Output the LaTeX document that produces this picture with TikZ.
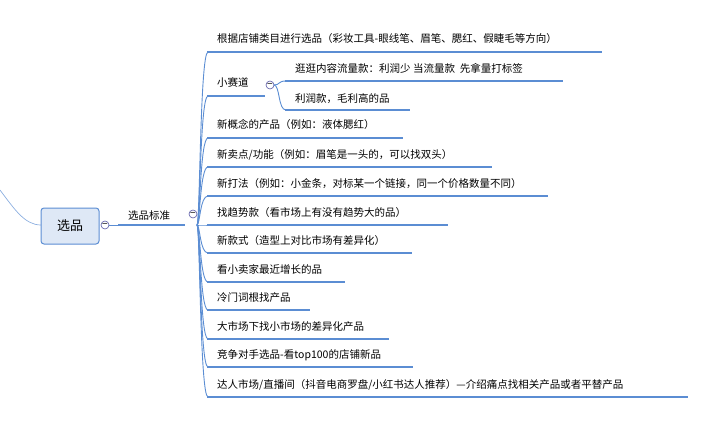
\documentclass[tikz,border=0pt]{standalone}
\usepackage{fontspec}
\setmainfont{Noto Sans CJK SC}
\begin{document}
\begin{tikzpicture}[x=1pt,y=-1pt,
  lbl/.style={anchor=base west,inner sep=0pt,font=\fontsize{10.5}{12}\selectfont},
  ul/.style={draw=blue!45!cyan!60!black!70,line width=1.6pt},
  br/.style={draw=blue!45!cyan!60!black!70,line width=0.9pt},
  tog/.style={circle,draw=gray!70!blue,fill=white,inner sep=0pt,minimum size=8pt,line width=0.6pt}]
\useasboundingbox (0,0) rectangle (727,422);
\definecolor{ln}{HTML}{5B8DD3}
% root link
\draw[draw=ln!70,line width=0.7pt] (0,190) .. controls (15,210) and (25,225) .. (41,225);
\node[draw=ln,fill=ln!20,rounded corners=3pt,line width=1pt,minimum width=58pt,minimum height=36pt,font=\fontsize{13}{15}\selectfont] (root) at (70,226) {选品};
\draw[draw=ln,line width=0.8pt] (105,225) -- (185,225);
\draw[ul,draw=ln] (118,225) -- (185,225);
\node[lbl] (std) at (128,219) {选品标准};
\node[tog] (t0) at (105,225) {\textminus};
\node[tog] (t1) at (193,214) {\textminus};
% branches
\foreach \n/\y/\e/\t in {
 a/52/602/{根据店铺类目进行选品（彩妆工具-眼线笔、眉笔、腮红、假睫毛等方向）},
 b/96/265/{小赛道},
 c/138/403/{新概念的产品（例如：液体腮红）},
 d/167/492/{新卖点/功能（例如：眉笔是一头的，可以找双头）},
 e/196/548/{新打法（例如：小金条，对标某一个链接，同一个价格数量不同）},
 f/225/448/{找趋势款（看市场上有没有趋势大的品）},
 g/253/412/{新款式（造型上对比市场有差异化）},
 h/282/345/{看小卖家最近增长的品},
 i/310/310/{冷门词根找产品},
 j/339/389/{大市场下找小市场的差异化产品},
 k/367/413/{竞争对手选品-看top100的店铺新品},
 l/397/688/{达人市场/直播间（抖音电商罗盘/小红书达人推荐）---介绍痛点找相关产品或者平替产品}}{
 \draw[br,draw=ln] (197,225) .. controls (200,225) and (200,\y) .. (208,\y);
 \draw[ul,draw=ln] (207,\y) -- (\e,\y);
 \node[lbl] (\n) at (217,\y-9) {\t};
}
\node[tog] (t2) at (270,85) {\textminus};
\draw[br,draw=ln] (274,85) .. controls (280,85) and (278,81) .. (286,81);
\draw[br,draw=ln] (274,85) .. controls (280,85) and (278,110) .. (286,110);
\draw[ul,draw=ln] (285,81) -- (563,81);
\draw[ul,draw=ln] (285,110) -- (410,110);
\node[lbl] (b1) at (295,73) {逛逛内容流量款：利润少 当流量款\ \ 先拿量打标签};
\node[lbl] (b2) at (295,103) {利润款，毛利高的品};
\end{tikzpicture}
\end{document}
